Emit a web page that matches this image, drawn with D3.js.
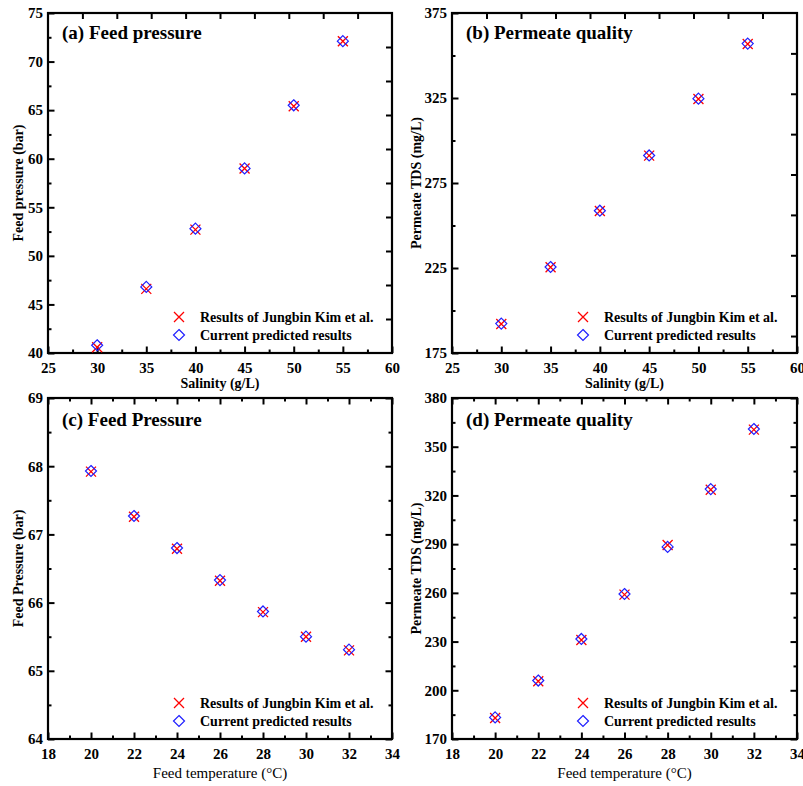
<!DOCTYPE html>
<html>
<head>
<meta charset="utf-8">
<script src="https://cdn.jsdelivr.net/npm/d3@7"></script>
<style>
  html, body { margin: 0; padding: 0; background: #fff; }
  svg { display: block; }
  text { font-family: "Liberation Serif", "Times New Roman", serif; fill: #000; }
</style>
</head>
<body>
<svg id="chart" width="803" height="786"></svg>
<script>
// ---------------- DATA ----------------
const salinity = [30, 35, 40, 45, 50, 55];
const feedPressureKim  = [40.6, 46.6, 52.7, 59.0, 65.4, 72.1];
const feedPressurePred = [40.8, 46.8, 52.8, 59.0, 65.5, 72.1];
const permeateTdsKim   = [192.1, 225.4, 258.5, 291.1, 324.4, 356.8];
const permeateTdsPred  = [192.3, 225.6, 258.7, 291.2, 324.6, 357.0];

const temperature = [20, 22, 24, 26, 28, 30, 32];
const feedPressureTempKim  = [67.92, 67.26, 66.79, 66.32, 65.86, 65.50, 65.30];
const feedPressureTempPred = [67.93, 67.27, 66.80, 66.33, 65.87, 65.50, 65.31];
const permeateTdsTempKim   = [182.9, 205.6, 231.0, 258.9, 289.5, 323.5, 360.5];
const permeateTdsTempPred  = [183.3, 206.0, 231.6, 259.3, 288.3, 323.9, 360.9];

const salinityTicks = [25, 30, 35, 40, 45, 50, 55, 60];
const temperatureTicks = [18, 20, 22, 24, 26, 28, 30, 32, 34];
const pressureTicksA = [40, 45, 50, 55, 60, 65, 70, 75];
const tdsTicksB = [175, 225, 275, 325, 375];
const pressureTicksC = [64, 65, 66, 67, 68, 69];
const tdsTicksD = [170, 200, 230, 260, 290, 320, 350, 380];

const legendLabels = ["Results of Jungbin Kim et al.", "Current predicted results"];
const titles = ["(a) Feed pressure", "(b) Permeate quality", "(c) Feed Pressure", "(d) Permeate quality"];

// ---------------- PANELS ----------------
const svg = d3.select("#chart");
const FONT = '"Liberation Serif", "Times New Roman", serif';

const panels = [
  { box: [48, 392, 13, 353], xTicks: salinityTicks, xMinorStep: 2.5, yTicks: pressureTicksA, yMinorStep: 2.5,
    top: { divisions: 10 }, right: { divisions: 10 },
    x: salinity, kim: feedPressureKim, pred: feedPressurePred, title: titles[0],
    xLabel: "Salinity (g/L)", xLabelBold: true, yLabel: "Feed pressure (bar)", yLabelX: 23, titleDy: 26 },
  { box: [452, 797, 13, 353], xTicks: salinityTicks, xMinorStep: 2.5, yTicks: tdsTicksB, yMinorStep: 25,
    top: { divisions: 10 }, right: { divisions: 8.42 },
    x: salinity, kim: permeateTdsKim, pred: permeateTdsPred, title: titles[1],
    xLabel: "Salinity (g/L)", xLabelBold: true, yLabel: "Permeate TDS (mg/L)", yLabelX: 421, titleDy: 26 },
  { box: [48, 392, 398, 739], xTicks: temperatureTicks, xMinorStep: 1, yTicks: pressureTicksC, yMinorStep: 0.5,
    top: null, right: null,
    x: temperature, kim: feedPressureTempKim, pred: feedPressureTempPred, title: titles[2],
    xLabel: "Feed temperature (°C)", xLabelBold: false, yLabel: "Feed Pressure (bar)", yLabelX: 23, titleDy: 28 },
  { box: [452, 797, 398, 739], xTicks: temperatureTicks, xMinorStep: 1, yTicks: tdsTicksD, yMinorStep: 15,
    top: null, right: null,
    x: temperature, kim: permeateTdsTempKim, pred: permeateTdsTempPred, title: titles[3],
    xLabel: "Feed temperature (°C)", xLabelBold: false, yLabel: "Permeate TDS (mg/L)", yLabelX: 421, titleDy: 28 }
];

const MAJOR = 6.5, MINOR = 3.5, UNIFORM = 6;
const crossPath = "M-5,-5L5,5M-5,5L5,-5";
const diamondPath = "M0,-5.5L5.5,0L0,5.5L-5.5,0Z";
const fmt = d => String(d);

function minorValues(ticks, step) {
  const lo = ticks[0], hi = ticks[ticks.length - 1];
  const out = [];
  const n = Math.round((hi - lo) / step);
  for (let i = 1; i < n; i++) {
    const v = lo + i * step;
    if (!ticks.some(t => Math.abs(t - v) < 1e-9)) out.push(v);
  }
  return out;
}

panels.forEach(p => {
  const [x0, x1, y0, y1] = p.box;
  const xs = d3.scaleLinear().domain([p.xTicks[0], p.xTicks[p.xTicks.length - 1]]).range([x0, x1]);
  const ys = d3.scaleLinear().domain([p.yTicks[0], p.yTicks[p.yTicks.length - 1]]).range([y1, y0]);
  const g = svg.append("g");

  // bottom axis
  const xMinor = minorValues(p.xTicks, p.xMinorStep);
  const bottom = g.append("g").attr("transform", `translate(0,${y1})`);
  bottom.call(d3.axisBottom(xs).tickValues(xMinor).tickSize(-MINOR).tickFormat(""));
  bottom.append("g").call(d3.axisBottom(xs).tickValues(p.xTicks).tickSize(-MAJOR).tickPadding(9).tickFormat(fmt));

  // left axis
  const yMinor = minorValues(p.yTicks, p.yMinorStep);
  const left = g.append("g").attr("transform", `translate(${x0},0)`);
  left.call(d3.axisLeft(ys).tickValues(yMinor).tickSize(-MINOR).tickFormat(""));
  left.append("g").call(d3.axisLeft(ys).tickValues(p.yTicks).tickSize(-MAJOR).tickPadding(5).tickFormat(fmt));

  // top axis
  const topG = g.append("g").attr("transform", `translate(0,${y0})`);
  if (p.top) {
    const ts = d3.scaleLinear().domain([0, p.top.divisions]).range([x0, x1]);
    topG.call(d3.axisTop(ts).tickValues(d3.range(1, Math.ceil(p.top.divisions))).tickSize(-UNIFORM).tickFormat(""));
  } else {
    topG.call(d3.axisTop(xs).tickValues(xMinor).tickSize(-MINOR).tickFormat(""));
    topG.append("g").call(d3.axisTop(xs).tickValues(p.xTicks).tickSize(-MAJOR).tickFormat(""));
  }
  // right axis
  const rightG = g.append("g").attr("transform", `translate(${x1},0)`);
  if (p.right) {
    const rs = d3.scaleLinear().domain([0, p.right.divisions]).range([y0, y1]);
    rightG.call(d3.axisRight(rs).tickValues(d3.range(1, Math.ceil(p.right.divisions))).tickSize(-UNIFORM).tickFormat(""));
  } else {
    rightG.call(d3.axisRight(ys).tickValues(yMinor).tickSize(-MINOR).tickFormat(""));
    rightG.append("g").call(d3.axisRight(ys).tickValues(p.yTicks).tickSize(-MAJOR).tickFormat(""));
  }

  g.selectAll(".domain").remove();
  g.selectAll(".tick line").attr("stroke", "#000").attr("stroke-width", 2);
  g.selectAll(".tick text")
    .attr("font-family", FONT).attr("font-size", 15).attr("font-weight", "bold").attr("fill", "#000");

  // frame
  g.append("rect").attr("x", x0).attr("y", y0).attr("width", x1 - x0).attr("height", y1 - y0)
    .attr("fill", "none").attr("stroke", "#000").attr("stroke-width", 2.2);

  // title
  g.append("text").attr("x", x0 + 14).attr("y", y0 + p.titleDy)
    .attr("font-size", 19).attr("font-weight", "bold").text(p.title);

  // axis labels
  g.append("text").attr("x", (x0 + x1) / 2).attr("y", p.xLabelBold ? y1 + 35 : y1 + 39)
    .attr("text-anchor", "middle").attr("font-size", p.xLabelBold ? 14 : 15)
    .attr("font-weight", p.xLabelBold ? "bold" : "normal").text(p.xLabel);
  g.append("text").attr("transform", `translate(${p.yLabelX},${(y0 + y1) / 2}) rotate(-90)`)
    .attr("text-anchor", "middle").attr("font-size", 14).attr("font-weight", "bold").text(p.yLabel);

  // points
  const pts = g.append("g");
  pts.selectAll(".kim").data(p.x.map((v, i) => [v, p.kim[i]])).enter().append("path")
    .attr("transform", d => `translate(${xs(d[0])},${ys(d[1])})`)
    .attr("d", crossPath).attr("stroke", "#ff0000").attr("stroke-width", 1.3).attr("fill", "none");
  pts.selectAll(".pred").data(p.x.map((v, i) => [v, p.pred[i]])).enter().append("path")
    .attr("transform", d => `translate(${xs(d[0])},${ys(d[1])})`)
    .attr("d", diamondPath).attr("stroke", "#1f1fff").attr("stroke-width", 1.2).attr("fill", "none");

  // legend
  const lg = g.append("g").attr("transform", `translate(${x0 + 131},${y1 - 36})`);
  lg.append("path").attr("d", crossPath).attr("stroke", "#ff0000").attr("stroke-width", 1.3).attr("fill", "none");
  lg.append("path").attr("transform", "translate(0,18)").attr("d", diamondPath)
    .attr("stroke", "#1f1fff").attr("stroke-width", 1.2).attr("fill", "none");
  legendLabels.forEach((t, i) => {
    lg.append("text").attr("x", 21).attr("y", i * 18 + 5).attr("font-size", 14).attr("font-weight", "bold").text(t);
  });
});
</script>
</body>
</html>
